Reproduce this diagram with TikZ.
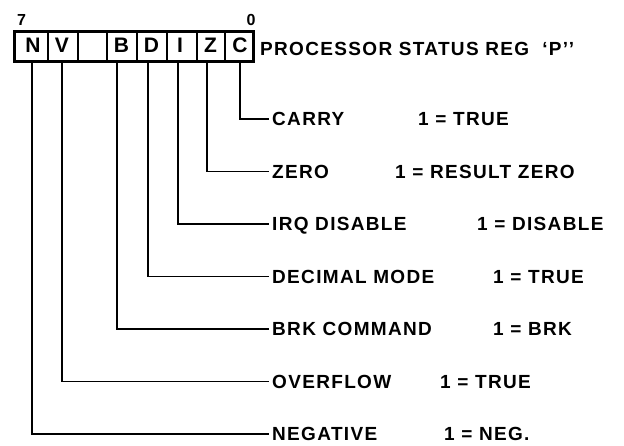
\documentclass[tikz,border=0pt]{standalone}
\usepackage{fontspec}
\newfontfamily\lab{Liberation Sans}[LetterSpace=7]
\newfontfamily\labplain{Liberation Sans}
\begin{document}
\begin{tikzpicture}[x=1pt,y=1pt,
  lbl/.style={font=\lab\bfseries\fontsize{19}{19}\selectfont, inner xsep=3pt, inner ysep=0pt,
              text height=13.6pt, text depth=0pt, anchor=west},
  val/.style={lbl, inner xsep=0pt},
  cellch/.style={font=\labplain\bfseries\fontsize{21}{21}\selectfont, inner sep=0pt,
              text height=15pt, text depth=0pt},
  bitno/.style={font=\labplain\bfseries\fontsize{16}{16}\selectfont, inner sep=0pt,
              text height=11.5pt, text depth=0pt},
  regbox/.style={draw, line width=2.8pt, minimum width=239pt, minimum height=30.5pt, inner sep=0pt},
  divider/.style={line width=2pt},
  wire/.style={line width=1.7pt, line join=miter}]
\useasboundingbox (0,0) rectangle (624,-446);

% register
\node[regbox] (reg) at (134.25,-46.5) {};
\foreach \i/\x in {1/47.5,2/77.5,3/107,4/137,5/167,6/196.5,7/225}{
  \coordinate (dt\i) at (\x,-31);
  \coordinate (db\i) at (\x,-62);
  \draw[divider] (dt\i) -- (db\i);
}
\node[cellch] (cN) at (33,-45.5) {N};
\node[cellch] (cV) at (62,-45.5) {V};
\node[cellch] (cB) at (121.5,-45.5) {B};
\node[cellch] (cD) at (151.5,-45.5) {D};
\node[cellch] (cI) at (180,-45.5) {I};
\node[cellch] (cZ) at (210.5,-45.5) {Z};
\node[cellch] (cC) at (240,-45.5) {C};

\node[bitno] (b7) at (21.5,-19.5) {7};
\node[bitno] (b0) at (251,-19.5) {0};

\node[val] (title) at (260,-49) {PROCESSOR STATUS REG\ \ ‘P’’};

% taps
\coordinate (tC) at (240,-61.5);
\coordinate (tZ) at (207.3,-61.5);
\coordinate (tI) at (178.3,-61.5);
\coordinate (tD) at (148.3,-61.5);
\coordinate (tB) at (116.7,-61.5);
\coordinate (tV) at (61.7,-61.5);
\coordinate (tN) at (32.3,-61.5);

% rows
\node[lbl] (lC) at (269,-119) {CARRY};
\node[val] (vC) at (418,-119) {1 = TRUE};
\node[lbl] (lZ) at (269,-171.5) {ZERO};
\node[val] (vZ) at (395,-171.5) {1 = RESULT ZERO};
\node[lbl] (lI) at (269,-224) {IRQ DISABLE};
\node[val] (vI) at (477,-224) {1 = DISABLE};
\node[lbl] (lD) at (269,-276.5) {DECIMAL MODE};
\node[val] (vD) at (493,-276.5) {1 = TRUE};
\node[lbl] (lB) at (269,-329) {BRK COMMAND};
\node[val] (vB) at (493,-329) {1 = BRK};
\node[lbl] (lV) at (269,-381.5) {OVERFLOW};
\node[val] (vV) at (440,-381.5) {1 = TRUE};
\node[lbl] (lN) at (269,-434) {NEGATIVE};
\node[val] (vN) at (444,-434) {1 = NEG.};

\foreach \k in {C,Z,I,D,B,V,N}{
  \draw[wire] (t\k) |- (l\k.west);
}
\end{tikzpicture}
\end{document}
